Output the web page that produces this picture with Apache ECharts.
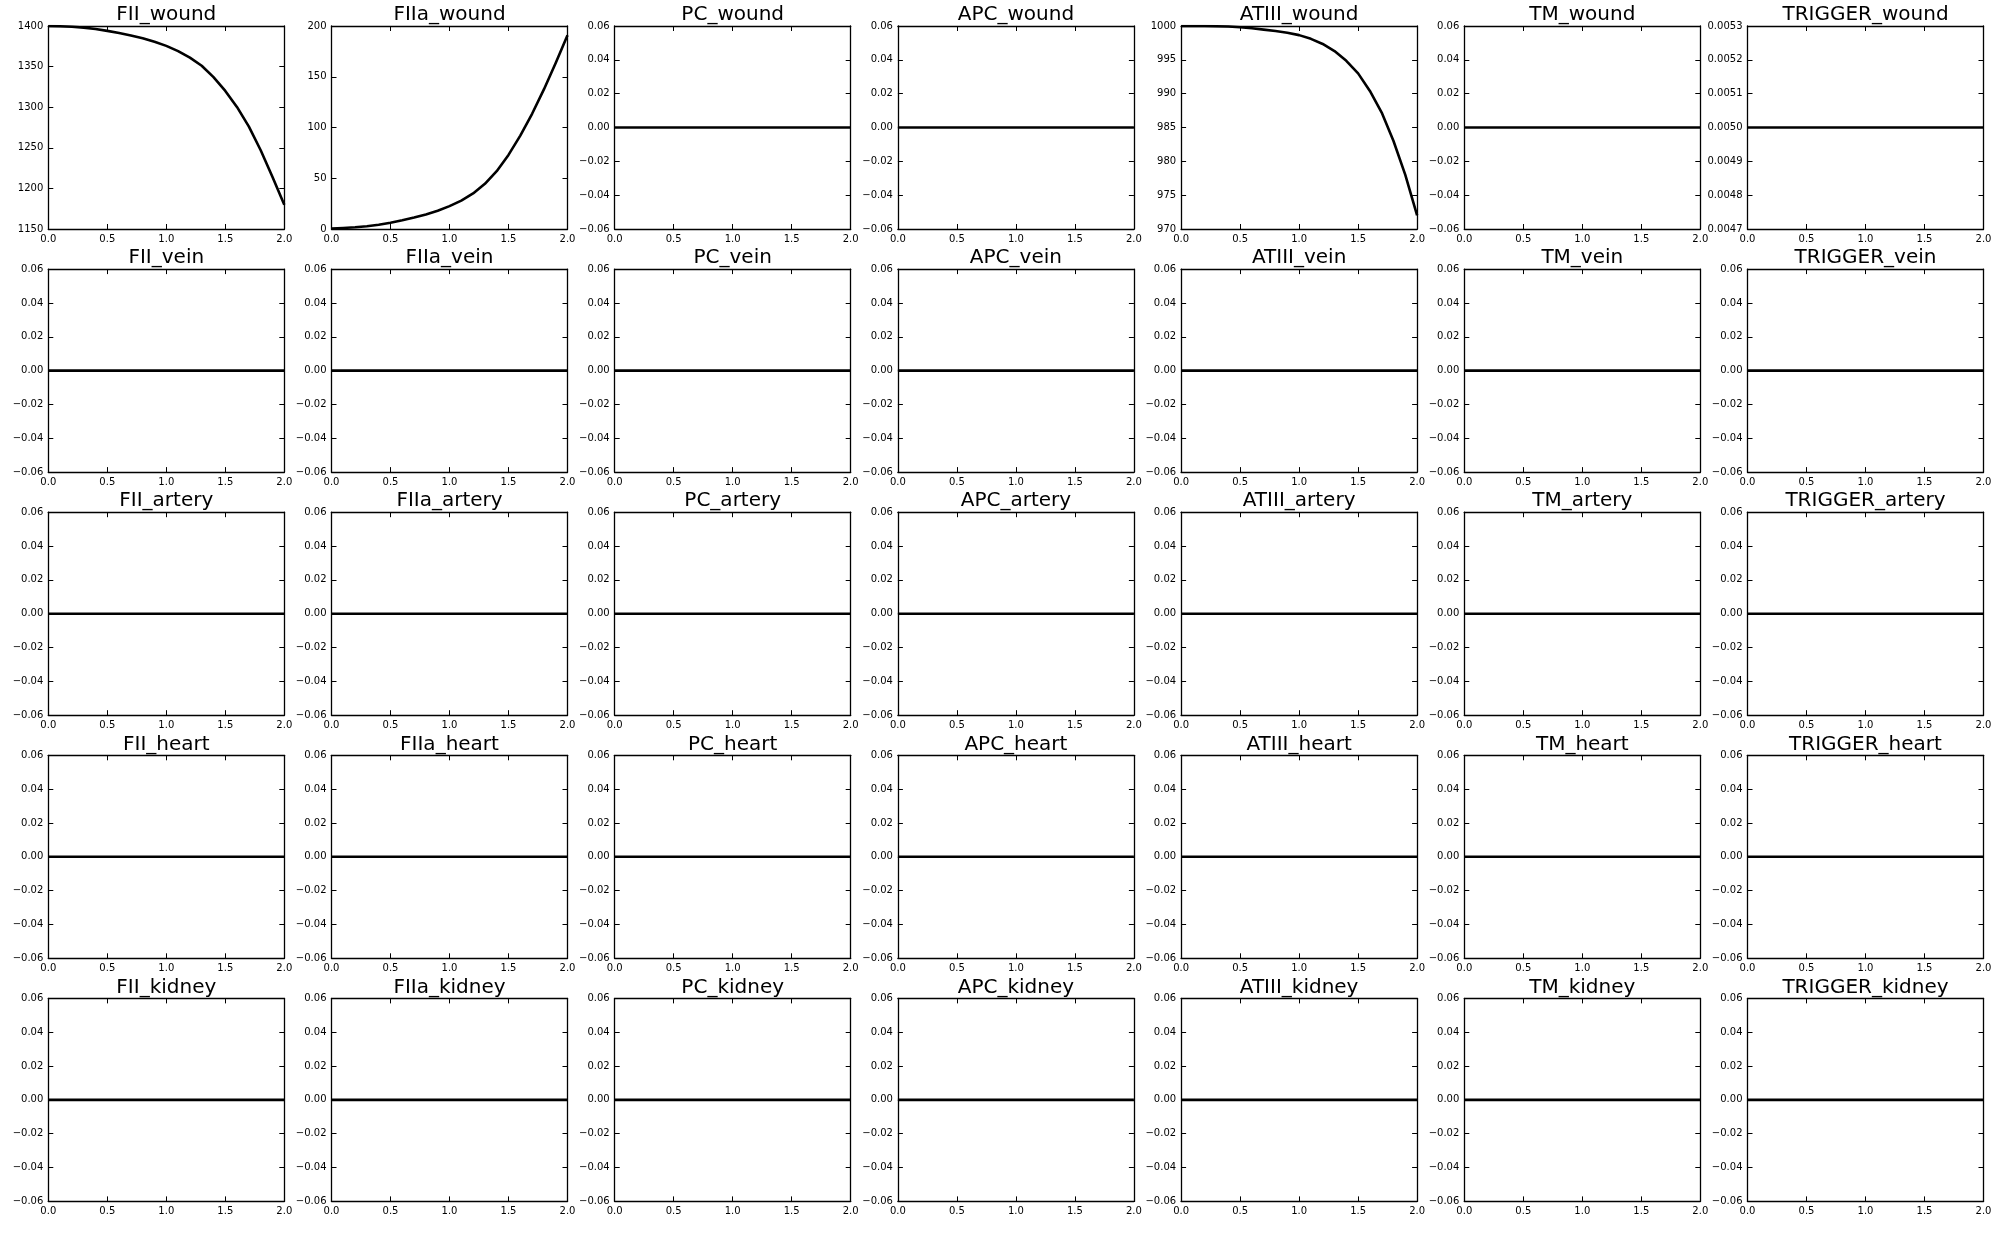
<!DOCTYPE html>
<html><head><meta charset="utf-8">
<script src="https://cdn.jsdelivr.net/npm/echarts@6/dist/echarts.min.js"></script>
<style>html,body{margin:0;padding:0;background:#fff}#c{width:2012px;height:1242px}</style>
</head><body><div id="c"></div>
<script>
const species = ['FII', 'FIIa', 'PC', 'APC', 'ATIII', 'TM', 'TRIGGER'];
const compartments = ['wound', 'vein', 'artery', 'heart', 'kidney'];
const times = [0, 0.1, 0.2, 0.3, 0.4, 0.5, 0.6, 0.7, 0.8, 0.9, 1.0, 1.1, 1.2, 1.3, 1.4, 1.5, 1.6, 1.7, 1.8, 1.9, 2.0];
const fiiWound = [1400, 1399.7, 1399, 1398, 1396.3, 1394, 1391.4, 1388.4, 1384.9, 1380.5, 1375.5, 1369, 1361, 1351, 1337, 1320, 1300, 1276, 1247, 1214, 1180];
const fiiaWound = [0.5, 1, 1.7, 2.7, 4.2, 6.2, 8.6, 11.3, 14.4, 18, 22.5, 28, 35, 44.5, 57, 73, 92, 113.5, 137.5, 163.5, 191];
const atiiiWound = [1000, 1000, 999.99, 999.97, 999.92, 999.82, 999.67, 999.47, 999.25, 999.0, 998.65, 998.1, 997.35, 996.3, 994.85, 993.0, 990.4, 987.2, 983.0, 978.0, 972];
const triggerWound = [0.005, 0.005, 0.005, 0.005, 0.005, 0.005, 0.005, 0.005, 0.005, 0.005, 0.005, 0.005, 0.005, 0.005, 0.005, 0.005, 0.005, 0.005, 0.005, 0.005, 0.005];
const flatZero = [0, 0, 0, 0, 0, 0, 0, 0, 0, 0, 0, 0, 0, 0, 0, 0, 0, 0, 0, 0, 0];
const xTickLabels = ['0.0', '0.5', '1.0', '1.5', '2.0'];
// [min, max, interval, decimals]
const yFII = [1150, 1400, 50, 0];
const yFIIa = [0, 200, 50, 0];
const yATIII = [970, 1000, 5, 0];
const yTRIGGER = [0.0047, 0.0053, 0.0001, 4];
const yDefault = [-0.06, 0.06, 0.02, 2];

function panelData(sp, comp) {
  if (comp === 'wound') {
    if (sp === 'FII') return { vals: fiiWound, y: yFII };
    if (sp === 'FIIa') return { vals: fiiaWound, y: yFIIa };
    if (sp === 'ATIII') return { vals: atiiiWound, y: yATIII };
    if (sp === 'TRIGGER') return { vals: triggerWound, y: yTRIGGER };
  }
  return { vals: flatZero, y: yDefault };
}

const FONT = 'DejaVu Sans';
const colLeft = i => 48.3 + 283.2 * i;
const rowTop = j => 26 + 243.1 * j;
const W = 236, H = 203;

const grids = [], xAxes = [], yAxes = [], series = [], titles = [];
compartments.forEach((comp, j) => {
  species.forEach((sp, i) => {
    const k = j * 7 + i;
    const pd = panelData(sp, comp);
    const [ymin, ymax, yint, dec] = pd.y;
    grids.push({ left: colLeft(i), top: rowTop(j), width: W, height: H, containLabel: false });
    titles.push({
      text: sp + '_' + comp, left: colLeft(i) + W / 2, top: rowTop(j) - 21, padding: 0,
      textAlign: 'center',
      textStyle: { fontFamily: FONT, fontSize: 20, fontWeight: 'normal', color: '#000' }
    });
    const line = { show: true, onZero: false, lineStyle: { color: '#000', width: 1.3 } };
    const tick = { show: true, inside: true, length: 5, lineStyle: { color: '#000', width: 1 } };
    xAxes.push({
      type: 'value', gridIndex: k, min: 0, max: 2, interval: 0.5, position: 'bottom',
      axisLine: line, axisTick: tick, splitLine: { show: false },
      axisLabel: {
        show: true, margin: 5, fontFamily: FONT, fontSize: 10, color: '#000',
        showMinLabel: true, showMaxLabel: true,
        formatter: v => xTickLabels[Math.round(v / 0.5)]
      }
    });
    xAxes.push({
      type: 'value', gridIndex: k, min: 0, max: 2, interval: 0.5, position: 'top',
      axisLine: line, axisTick: tick, splitLine: { show: false }, axisLabel: { show: false }
    });
    yAxes.push({
      type: 'value', gridIndex: k, min: ymin, max: ymax, interval: yint, position: 'left',
      axisLine: line, axisTick: tick, splitLine: { show: false },
      axisLabel: {
        show: true, margin: 5, fontFamily: FONT, fontSize: 10, color: '#000',
        showMinLabel: true, showMaxLabel: true,
        formatter: v => (Math.abs(v) < 1e-12 ? 0 : v).toFixed(dec).replace('-', '\u2212')
      }
    });
    yAxes.push({
      type: 'value', gridIndex: k, min: ymin, max: ymax, interval: yint, position: 'right',
      axisLine: line, axisTick: tick, splitLine: { show: false }, axisLabel: { show: false }
    });
    series.push({
      type: 'line', xAxisIndex: 2 * k, yAxisIndex: 2 * k,
      data: times.map((t, n) => [t, pd.vals[n]]),
      showSymbol: false, symbol: 'none', smooth: false,
      lineStyle: { color: '#000', width: 2.6, join: 'round', cap: 'butt' }, z: 3, silent: true
    });
  });
});

const chart = echarts.init(document.getElementById('c'), null, { renderer: 'canvas' });
chart.setOption({
  backgroundColor: '#fff', animation: false,
  title: titles, grid: grids, xAxis: xAxes, yAxis: yAxes, series: series
});
</script></body></html>
